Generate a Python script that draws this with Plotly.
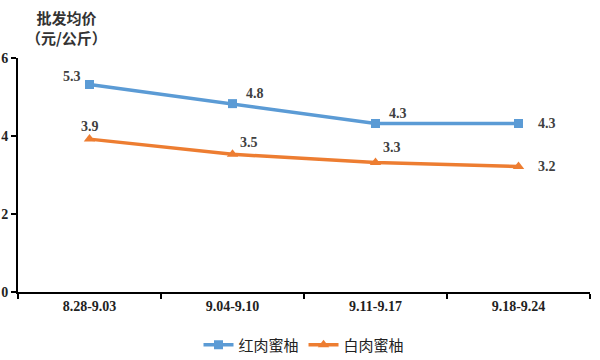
import plotly.graph_objects as go

categories = ["8.28-9.03", "9.04-9.10", "9.11-9.17", "9.18-9.24"]
red_pomelo = [5.32, 4.83, 4.32, 4.32]
white_pomelo = [3.92, 3.53, 3.32, 3.22]
red_name = "红肉蜜柚"
white_name = "白肉蜜柚"
y_ticks = [0, 2, 4, 6]
y_title_lines = ["批发均价", "（元/公斤）"]

BLUE = "#5B9BD5"
ORANGE = "#ED7D31"
LABEL = "#404040"
SERIF = "Liberation Serif, Times New Roman, serif"
CJK = "Noto Sans CJK SC, sans-serif"

W, H = 600, 360

fig = go.Figure()
fig.add_trace(go.Scatter(
    x=categories, y=red_pomelo, name=red_name, mode="lines+markers",
    line=dict(color=BLUE, width=3.5),
    marker=dict(symbol="square", size=9, color=BLUE),
))
fig.add_trace(go.Scatter(
    x=categories, y=white_pomelo, name=white_name, mode="lines+markers",
    line=dict(color=ORANGE, width=3.5),
    marker=dict(symbol="triangle-up", size=10, color=ORANGE),
))

red_offsets = [(-18, 8), (22, 10), (22, 10), (28, 0)]
white_offsets = [(0, 13), (16, 12), (16, 15), (28, 0)]
for series, offs in ((red_pomelo, red_offsets), (white_pomelo, white_offsets)):
    for c, v, (dx, dy) in zip(categories, series, offs):
        fig.add_annotation(
            x=c, y=v, xref="x", yref="y", text=f"{v:.1f}", showarrow=False,
            xshift=dx, yshift=dy,
            font=dict(family=SERIF, size=14, color=LABEL, weight="bold"),
        )

fig.add_annotation(
    xref="paper", yref="paper", x=(66 - 18) / 572, y=1 + (58 - 27) / 234,
    xanchor="center", yanchor="middle", align="center",
    text="<br>".join(y_title_lines), showarrow=False,
    font=dict(family=CJK, size=15, color="#333333", weight="bold"),
)

fig.update_layout(
    width=W, height=H,
    margin=dict(l=18, r=10, t=58, b=68),
    paper_bgcolor="white", plot_bgcolor="white",
    showlegend=True,
    legend=dict(
        orientation="h", x=0.5, xanchor="center",
        yref="container", y=1 - 345 / H, yanchor="middle",
        font=dict(family=CJK, size=15, color="#222222"),
    ),
    xaxis=dict(
        type="category", range=[-0.5, 3.5], tickson="boundaries",
        automargin=False,
        showline=True, linecolor="black", linewidth=2,
        ticks="outside", ticklen=5, tickcolor="black", tickwidth=1.5,
        showgrid=False, zeroline=False,
        tickfont=dict(family=SERIF, size=14, color="#222222", weight="bold"),
    ),
    yaxis=dict(
        range=[0, 6], tickvals=y_ticks, automargin=False,
        showline=True, linecolor="black", linewidth=2,
        ticks="outside", ticklen=5, tickcolor="black", tickwidth=1.5,
        showgrid=False, zeroline=False,
        tickfont=dict(family=SERIF, size=14, color="#222222", weight="bold"),
    ),
)

fig.write_html(
    "out.html",
    config={"displayModeBar": False},
    post_script="document.body.style.margin='0';",
)
